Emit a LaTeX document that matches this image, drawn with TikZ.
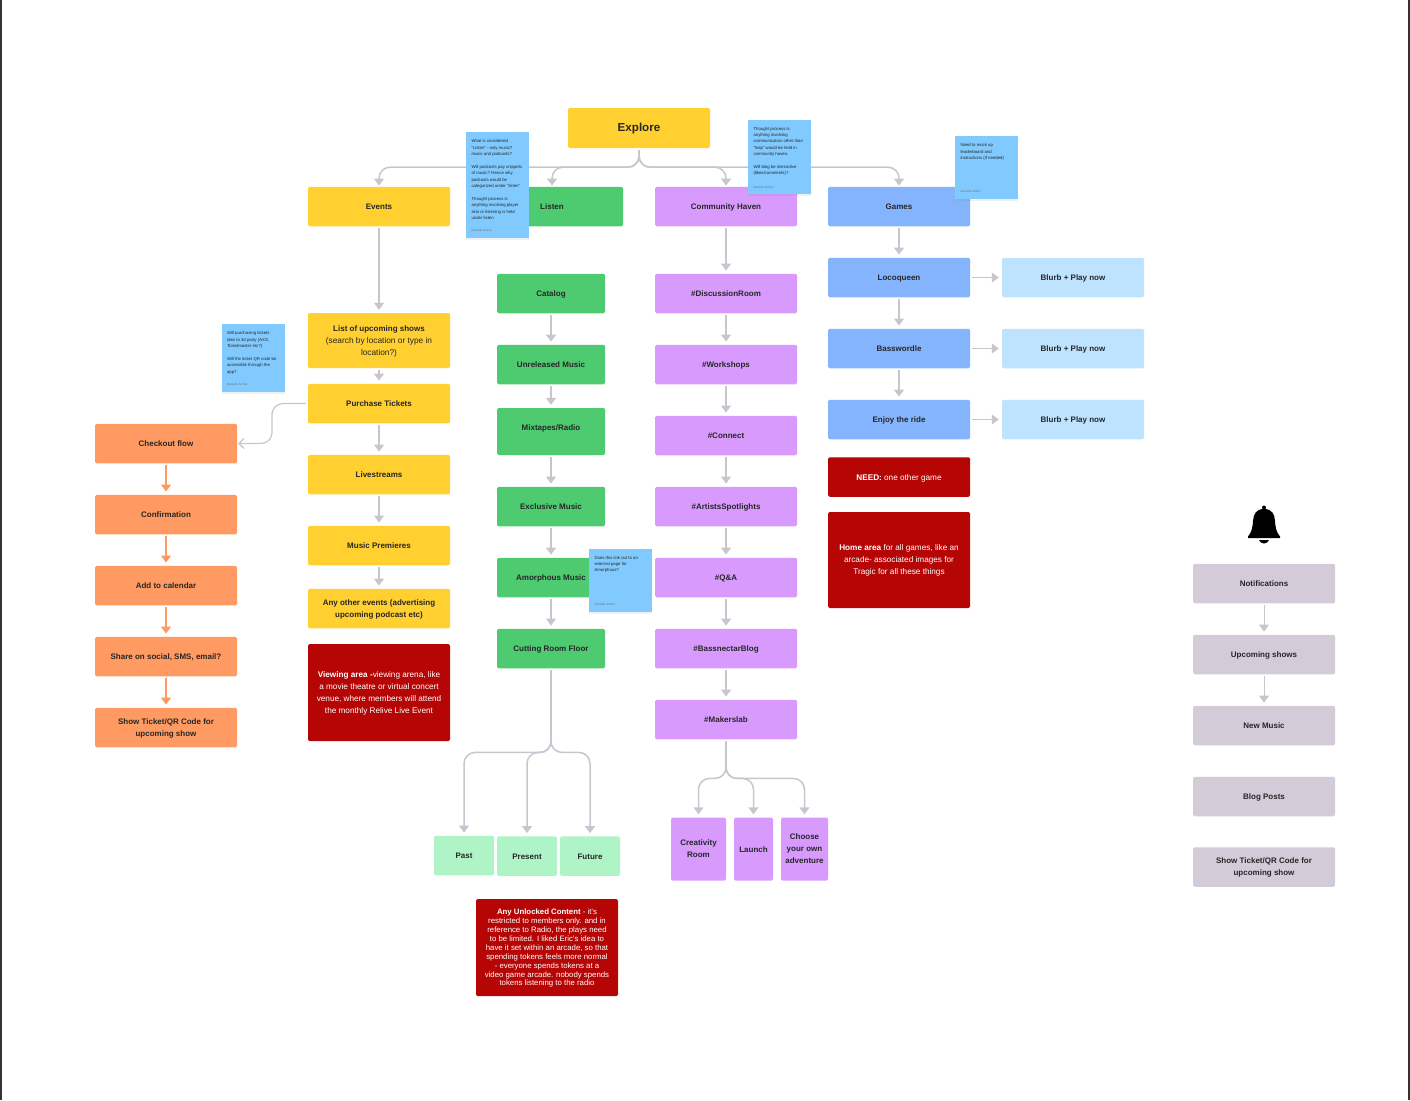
\documentclass[tikz,border=0pt]{standalone}
\usepackage{fontspec}
\setmainfont{Liberation Sans}
\usetikzlibrary{arrows.meta}
\usetikzlibrary{shadows}
\usetikzlibrary{positioning}

\definecolor{eventYellow}{HTML}{FFD02F}
\definecolor{listenGreen}{HTML}{4ECB71}
\definecolor{mintGreen}{HTML}{AFF4C6}
\definecolor{havenPurple}{HTML}{D89BFD}
\definecolor{gameBlue}{HTML}{85B4FF}
\definecolor{blurbBlue}{HTML}{BDE3FF}
\definecolor{flowOrange}{HTML}{FF9B62}
\definecolor{alertRed}{HTML}{B60505}
\definecolor{bellGrey}{HTML}{D3CCD8}
\definecolor{noteBlue}{HTML}{80CAFF}
\definecolor{arrowGrey}{HTML}{C9C5CE}

\begin{document}
\begin{tikzpicture}[
        x=1pt, y=-1pt,
        >={Triangle[length=7pt,width=10pt]},
        box/.style={rectangle, rounded corners=1.5pt, inner sep=0pt, minimum width=142pt, minimum height=39.5pt, align=center, text=black!85, font=\fontsize{8}{12}\selectfont\bfseries, execute at begin node={\rule{0pt}{8pt}}, execute at end node={\rule[-2pt]{0pt}{2pt}}},
        lines/.style={text depth=-1.5pt},
        events/.style={box, fill=eventYellow},
        listen/.style={box, fill=listenGreen, minimum width=108pt},
        past/.style={box, fill=mintGreen, minimum width=60pt},
        haven/.style={box, fill=havenPurple},
        havensub/.style={box, fill=havenPurple, minimum height=63pt},
        games/.style={box, fill=gameBlue},
        blurb/.style={box, fill=blurbBlue},
        checkout/.style={box, fill=flowOrange},
        bellbox/.style={box, fill=bellGrey},
        alert/.style={box, fill=alertRed, text=white, font=\fontsize{8.2}{12}\selectfont},
        note/.style={rectangle, fill=noteBlue, inner sep=0pt, minimum width=63pt, minimum height=63pt, drop shadow={opacity=0.12, shadow xshift=0pt, shadow yshift=-2pt}},
        notetext/.style={inner sep=0pt, align=left, anchor=north west, text=black!85, font=\fontsize{4.3}{6.4}\selectfont},
        notename/.style={inner sep=0pt, anchor=south west, text=black!55, font=\fontsize{3}{4}\selectfont},
        flow/.style={->, draw=arrowGrey, line width=1.5pt, shorten >=3pt, shorten <=2pt},
        sideflow/.style={flow, line width=1pt},
        branch/.style={flow, rounded corners=11pt, shorten >=1pt},
        orangeflow/.style={flow, draw=flowOrange}
    ]
    \useasboundingbox (0,0) rectangle (1410,1100);

    % --- frame edges ---
    \fill[black!80] (0,0) rectangle (1.5,1100);
    \fill[black!80] (1408,0) rectangle (1410,1100);

    % --- 1. top ---
    \node[events, minimum height=40pt, font=\fontsize{11.6}{15}\selectfont\bfseries] (Explore) at (639,128) {\raisebox{-0.8pt}{Explore}};
    \node[events] (Events) at (379,206.5) {Events};
    \node[listen, minimum width=142pt] (Listen) at (552,206.5) {Listen};
    \node[haven] (Haven) at (726,206.5) {Community Haven};
    \node[games] (Games) at (899,206.5) {Games};

    % --- 2. events column ---
    \node[events, lines, minimum height=55pt, font=\fontsize{8.3}{12}\selectfont] (Shows) at (379,340.5) {{\fontsize{8}{12}\selectfont\bfseries List of upcoming shows}\\(search by location or type in\\location?)};
    \node[events] (Purchase) at (379,403.5) {Purchase Tickets};
    \node[events] (Livestreams) at (379,474.5) {Livestreams};
    \node[events] (Premieres) at (379,545.5) {Music Premieres};
    \node[events, lines] (Other) at (379,608.5) {Any other events (advertising\\upcoming podcast etc)};
    \node[alert, lines, minimum height=97pt] (Viewing) at (379,692.5) {\textbf{Viewing area -}viewing arena, like\\a movie theatre or virtual concert\\venue, where members will attend\\the monthly Relive Live Event};

    % --- 3. checkout column ---
    \node[checkout] (Checkout) at (166,443.5) {Checkout flow};
    \node[checkout] (Confirmation) at (166,514.5) {Confirmation};
    \node[checkout] (Calendar) at (166,585.5) {Add to calendar};
    \node[checkout] (Share) at (166,656.5) {Share on social, SMS, email?};
    \node[checkout, lines] (Ticket) at (166,727.5) {Show Ticket/QR Code for\\upcoming show};

    % --- 4. listen column ---
    \node[listen] (Catalog) at (551,293.5) {Catalog};
    \node[listen] (Unreleased) at (551,364.5) {Unreleased Music};
    \node[listen, minimum height=47pt] (Mixtapes) at (551,431.5) {\raisebox{5pt}{Mixtapes/Radio}};
    \node[listen] (Exclusive) at (551,506.5) {Exclusive Music};
    \node[listen] (Amorphous) at (551,577.5) {Amorphous Music};
    \node[listen] (Cutting) at (551,648.5) {Cutting Room Floor};
    \node[past] (Past) at (464,855.5) {Past};
    \node[past] (Present) at (527,856) {Present};
    \node[past] (Future) at (590,856) {Future};
    \node[alert, lines, minimum height=97pt, font=\fontsize{7.8}{8.9}\selectfont] (Unlocked) at (547,947.5) {\textbf{Any Unlocked Content} - it's\\restricted to members only. and in\\reference to Radio, the plays need\\to be limited. I liked Eric's idea to\\have it set within an arcade, so that\\spending tokens feels more normal\\- everyone spends tokens at a\\video game arcade. nobody spends\\tokens listening to the radio};

    % --- 5. haven column ---
    \node[haven] (Discussion) at (726,293.5) {\#DiscussionRoom};
    \node[haven] (Workshops) at (726,364.5) {\#Workshops};
    \node[haven] (Connect) at (726,435.5) {\#Connect};
    \node[haven] (Spotlights) at (726,506.5) {\#ArtistsSpotlights};
    \node[haven] (QandA) at (726,577.5) {\#Q\&A};
    \node[haven] (Blog) at (726,648.5) {\#BassnectarBlog};
    \node[haven] (Makerslab) at (726,719.5) {\#Makerslab};
    \node[havensub, lines, minimum width=55pt] (Creativity) at (698.5,849) {Creativity\\Room};
    \node[havensub, minimum width=39pt] (Launch) at (753.5,849) {Launch};
    \node[havensub, lines, minimum width=47pt] (Adventure) at (804.5,849) {Choose\\your own\\adventure};

    % --- 6. games column ---
    \node[games] (Locoqueen) at (899,277.5) {Locoqueen};
    \node[games] (Basswordle) at (899,348.5) {Basswordle};
    \node[games] (Ride) at (899,419.5) {Enjoy the ride};
    \node[blurb] (BlurbA) at (1073,277.5) {Blurb + Play now};
    \node[blurb] (BlurbB) at (1073,348.5) {Blurb + Play now};
    \node[blurb] (BlurbC) at (1073,419.5) {Blurb + Play now};
    \node[alert] (Need) at (899,477) {\textbf{NEED:} one other game};
    \node[alert, lines, minimum height=96pt] (Home) at (899,560) {\textbf{Home area} for all games, like an\\arcade- associated images for\\Tragic for all these things};

    % --- 7. notifications column ---
    \node[bellbox] (Notifications) at (1264,583.5) {Notifications};
    \node[bellbox] (Upcoming) at (1264,654.5) {Upcoming shows};
    \node[bellbox] (NewMusic) at (1264,725.5) {New Music};
    \node[bellbox] (BlogPosts) at (1264,796.5) {Blog Posts};
    \node[bellbox, lines] (BellTicket) at (1264,867) {Show Ticket/QR Code for\\upcoming show};

    % bell
    \fill[black] (1264,507.5) circle (2);
    \fill[black] (1264,509) .. controls (1256,509) and (1253.5,514) .. (1253,521)
        .. controls (1252.5,529) and (1251,533) .. (1248,536.5) -- (1248,538) -- (1280,538) -- (1280,536.5)
        .. controls (1277,533) and (1275.5,529) .. (1275,521)
        .. controls (1274.5,514) and (1272,509) .. (1264,509) -- cycle;
    \fill[black] (1259,540) -- (1269,540) .. controls (1268.5,542) and (1266,543.5) .. (1264,543.5)
        .. controls (1262,543.5) and (1259.5,542) .. (1259,540) -- cycle;

    % --- 8. connectors ---
    \draw[branch] (Explore.south) -- ++(0,19) -| (Events.north);
    \draw[branch] (Explore.south) -- ++(0,19) -| (Listen.north);
    \draw[branch] (Explore.south) -- ++(0,19) -| (Haven.north);
    \draw[branch] (Explore.south) -- ++(0,19) -| (Games.north);

    \draw[flow] (Events) -- (Shows);
    \draw[flow] (Shows) -- (Purchase);
    \draw[flow] (Purchase) -- (Livestreams);
    \draw[flow] (Livestreams) -- (Premieres);
    \draw[flow] (Premieres) -- (Other);

    \coordinate (elbow) at (272,423);
    \draw[draw=arrowGrey, line width=1.2pt, rounded corners=11pt, shorten <=2pt, shorten >=1pt, -{Straight Barb[length=5pt,width=10pt]}] (Purchase.west) -| (elbow) |- (Checkout.east);

    \draw[orangeflow] (Checkout) -- (Confirmation);
    \draw[orangeflow] (Confirmation) -- (Calendar);
    \draw[orangeflow] (Calendar) -- (Share);
    \draw[orangeflow] (Share) -- (Ticket);

    \draw[flow] (Catalog) -- (Unreleased);
    \draw[flow] (Unreleased) -- (Mixtapes);
    \draw[flow] (Mixtapes) -- (Exclusive);
    \draw[flow] (Exclusive) -- (Amorphous);
    \draw[flow] (Amorphous) -- (Cutting);
    \draw[branch, shorten >=3pt] (Cutting.south) -- ++(0,84) -| (Past.north);
    \draw[branch, shorten >=3pt] (Cutting.south) -- ++(0,84) -| (Present.north);
    \draw[branch, shorten >=3pt] (Cutting.south) -- ++(0,84) -| (Future.north);

    \draw[flow] (Haven) -- (Discussion);
    \draw[flow] (Discussion) -- (Workshops);
    \draw[flow] (Workshops) -- (Connect);
    \draw[flow] (Connect) -- (Spotlights);
    \draw[flow] (Spotlights) -- (QandA);
    \draw[flow] (QandA) -- (Blog);
    \draw[flow] (Blog) -- (Makerslab);
    \draw[branch, shorten >=3pt] (Makerslab.south) -- ++(0,39) -| (Creativity.north);
    \draw[branch, shorten >=3pt] (Makerslab.south) -- ++(0,39) -| (Launch.north);
    \draw[branch, shorten >=3pt] (Makerslab.south) -- ++(0,39) -| (Adventure.north);

    \draw[flow] (Games) -- (Locoqueen);
    \draw[flow] (Locoqueen) -- (Basswordle);
    \draw[flow] (Basswordle) -- (Ride);
    \draw[sideflow] (Locoqueen) -- (BlurbA);
    \draw[sideflow] (Basswordle) -- (BlurbB);
    \draw[sideflow] (Ride) -- (BlurbC);

    \draw[sideflow] (Notifications) -- (Upcoming);
    \draw[sideflow] (Upcoming) -- (NewMusic);

    % --- 9. sticky notes ---
    \node[note, minimum height=106pt] (noteListen) at (497.5,185) {};
    \node[notetext] (noteListenText) at ([xshift=5.5pt,yshift=-7.5pt]noteListen.north west) {What is considered\\``Listen'' - only music?\\music and podcasts?\\[6.4pt]Will podcasts pay snippets\\of music? Hence why\\podcasts would be\\categorized under ``listen''\\[6.4pt]Thought process is\\anything involving player\\skin or listening is held\\under listen};
    \node[notename] (noteListenName) at ([xshift=5.5pt,yshift=6pt]noteListen.south west) {Danielle Amirie};

    \node[note, minimum height=74pt] (noteHaven) at (779.5,157) {};
    \node[notetext] (noteHavenText) at ([xshift=5.5pt,yshift=-7pt]noteHaven.north west) {Thought process is\\anything involving\\communication other than\\``help'' would be held in\\community haven.\\[6.4pt]Will blog be interactive\\(likes/comments)?};
    \node[notename] (noteHavenName) at ([xshift=5.5pt,yshift=5pt]noteHaven.south west) {Danielle Amirie};

    \node[note] (noteGames) at (986.5,167.5) {};
    \node[notetext] (noteGamesText) at ([xshift=5.5pt,yshift=-7.5pt]noteGames.north west) {Need to mock up\\leaderboard and\\instructions (if needed)};
    \node[notename] (noteGamesName) at ([xshift=5.5pt,yshift=6pt]noteGames.south west) {Danielle Amirie};

    \node[note, minimum height=68pt] (noteTickets) at (253,358) {};
    \node[notetext] (noteTicketsText) at ([xshift=5.5pt,yshift=-7.5pt]noteTickets.north west) {Will purchasing tickets\\take to 3d party (AXS,\\Ticketmaster etc?)\\[6.4pt]Will the ticket QR code be\\accessible through the\\app?};
    \node[notename] (noteTicketsName) at ([xshift=5.5pt,yshift=6pt]noteTickets.south west) {Danielle Amirie};

    \node[note] (noteAmorphous) at (620.5,580.5) {};
    \node[notetext] (noteAmorphousText) at ([xshift=5.5pt,yshift=-7pt]noteAmorphous.north west) {Does this link out to an\\external page for\\Amorphous?};
    \node[notename] (noteAmorphousName) at ([xshift=5.5pt,yshift=6pt]noteAmorphous.south west) {Danielle Amirie};
\end{tikzpicture}
\end{document}
